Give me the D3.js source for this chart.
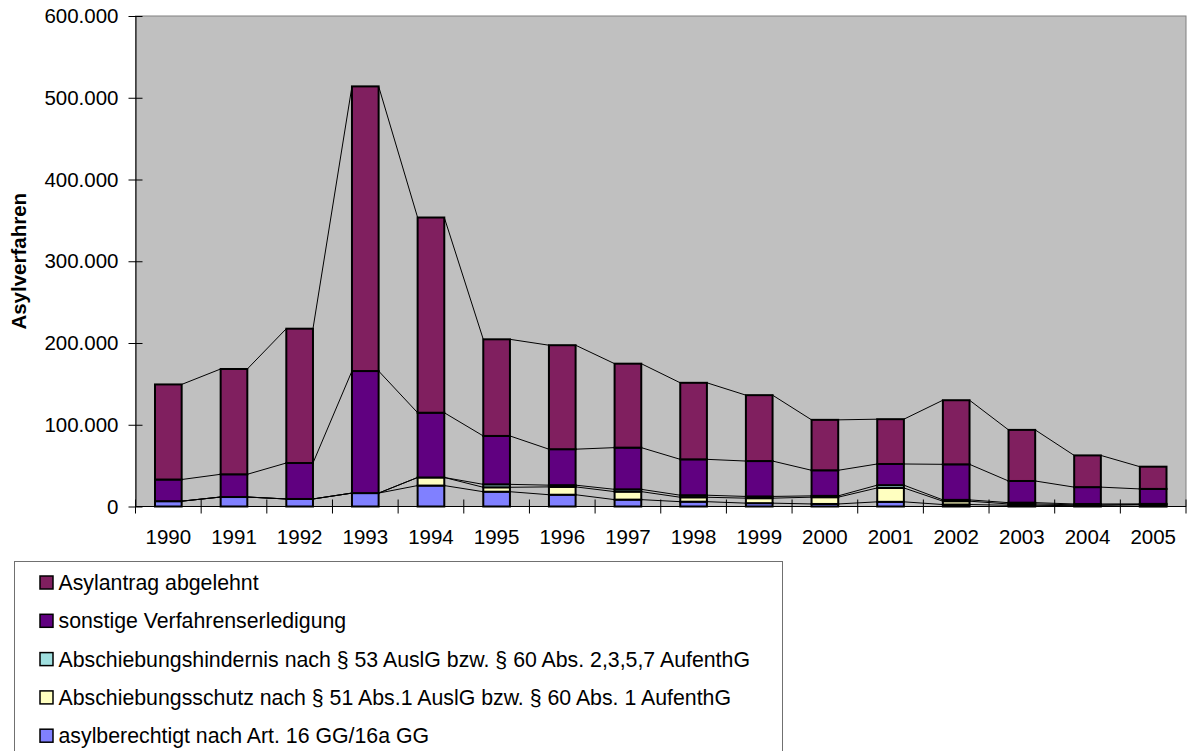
<!DOCTYPE html>
<html>
<head>
<meta charset="utf-8">
<script src="https://cdn.jsdelivr.net/npm/d3@7"></script>
<style>
  html, body { margin: 0; padding: 0; background: #fff; }
  svg { display: block; }
  text { font-family: "Liberation Sans", Arial, sans-serif; fill: #000; }
</style>
</head>
<body>
<svg id="chart" width="1188" height="751"></svg>
<script>
// ---- data ----
const years = ["1990","1991","1992","1993","1994","1995","1996","1997","1998","1999","2000","2001","2002","2003","2004","2005"];
const asylberechtigt      = [6500, 11600, 9200, 16400, 25600, 18100, 14400, 8400, 5900, 4100, 3100, 5700, 2400, 1500, 1000, 400];
const abschiebungsschutz  = [0, 0, 0, 0, 9900, 5400, 9600, 9800, 5400, 6100, 8300, 17000, 4100, 1600, 1100, 2100];
const abschiebungshindernis = [0, 0, 0, 0, 0, 3600, 2100, 2800, 2500, 2100, 1600, 3400, 1600, 1600, 1000, 700];
const sonstige            = [26500, 27800, 44000, 149300, 79200, 59200, 44000, 51000, 43900, 43300, 31300, 25900, 43500, 26500, 20600, 18300];
const abgelehnt           = [116300, 128800, 164300, 348200, 238800, 118200, 127200, 102700, 93600, 80600, 61700, 54800, 78400, 62500, 38800, 27200];
const yTicks = [0, 100000, 200000, 300000, 400000, 500000, 600000];
const seriesNames = [
  "asylberechtigt nach Art. 16 GG/16a GG",
  "Abschiebungsschutz nach § 51 Abs.1 AuslG bzw. § 60 Abs. 1 AufenthG",
  "Abschiebungshindernis nach § 53 AuslG bzw. § 60 Abs. 2,3,5,7 AufenthG",
  "sonstige Verfahrenserledigung",
  "Asylantrag abgelehnt"
];
const seriesColors = ["#8080FF", "#FFFFC0", "#A0E0E0", "#600080", "#801F5F"];
const yTitle = "Asylverfahren";

// ---- layout ----
const svg = d3.select("#chart");
const plot = { left: 135.5, right: 1186, top: 16, bottom: 506.5 };

const rows = years.map((y, i) => ({
  year: y,
  s0: asylberechtigt[i], s1: abschiebungsschutz[i], s2: abschiebungshindernis[i],
  s3: sonstige[i], s4: abgelehnt[i]
}));
const keys = ["s0","s1","s2","s3","s4"];
const stacked = d3.stack().keys(keys)(rows);

const x = d3.scaleBand().domain(years).range([plot.left, plot.right]).paddingInner(0.594).paddingOuter(0.297);
const xOuter = d3.scaleBand().domain(years).range([plot.left, plot.right]);
const y = d3.scaleLinear().domain([0, 600000]).range([plot.bottom, plot.top]);

// plot background
svg.append("rect")
  .attr("x", plot.left).attr("y", plot.top)
  .attr("width", plot.right - plot.left).attr("height", plot.bottom - plot.top)
  .attr("fill", "#C0C0C0").attr("stroke", "#808080").attr("stroke-width", 1);

const fmt = d3.formatLocale({ decimal: ",", thousands: ".", grouping: [3], currency: ["", "€"] }).format(",d");

// series lines
const lineG = svg.append("g").attr("stroke", "#000").attr("stroke-width", 1).attr("fill", "none");
stacked.forEach(layer => {
  for (let i = 0; i < years.length - 1; i++) {
    const a = layer[i], b = layer[i + 1];
    lineG.append("line")
      .attr("x1", x(years[i]) + x.bandwidth()).attr("y1", y(a[1]))
      .attr("x2", x(years[i + 1])).attr("y2", y(b[1]));
  }
});

// bars
stacked.forEach((layer, si) => {
  svg.append("g").selectAll("rect").data(layer).join("rect")
    .attr("x", d => x(d.data.year))
    .attr("y", d => y(d[1]))
    .attr("width", x.bandwidth())
    .attr("height", d => Math.max(0, y(d[0]) - y(d[1])))
    .attr("fill", seriesColors[si])
    .attr("stroke", "#000").attr("stroke-width", 2);
});

// y axis
const yAxis = d3.axisLeft(y).tickValues(yTicks).tickFormat(fmt).tickSizeInner(7).tickSizeOuter(0).tickPadding(10);
const yg = svg.append("g").attr("transform", `translate(${plot.left},0)`).call(yAxis);
yg.select(".domain").attr("stroke", "#000");
yg.selectAll(".tick line").attr("stroke", "#000").attr("x2", 7).attr("x1", -7);
yg.selectAll(".tick text").style("font-size", "20.5px").attr("x", -17);

// x axis
const xAxis = d3.axisBottom(xOuter).tickSize(0).tickPadding(0);
const xg = svg.append("g").attr("transform", `translate(0,${plot.bottom})`).call(xAxis);
xg.select(".domain").remove();
xg.selectAll(".tick text").style("font-size", "20.5px").attr("y", 37.5).attr("dy", 0);
svg.append("line").attr("x1", plot.left).attr("x2", plot.right).attr("y1", plot.bottom).attr("y2", plot.bottom).attr("stroke", "#000");
// category boundary ticks
const bounds = years.map(yr => xOuter(yr)).concat([plot.right]);
svg.append("g").selectAll("line").data(bounds).join("line")
  .attr("x1", d => d).attr("x2", d => d)
  .attr("y1", plot.bottom - 7).attr("y2", plot.bottom + 7)
  .attr("stroke", "#000");

// y title
svg.append("text")
  .attr("transform", `translate(26,${(plot.top + plot.bottom) / 2}) rotate(-90)`)
  .attr("text-anchor", "middle")
  .style("font-size", "20.5px").style("font-weight", "bold")
  .text(yTitle);

// legend
const leg = svg.append("g");
leg.append("rect").attr("x", 14.5).attr("y", 561.5).attr("width", 768).attr("height", 210)
  .attr("fill", "#fff").attr("stroke", "#707070").attr("stroke-width", 1);
const legOrder = [4, 3, 2, 1, 0];
legOrder.forEach((si, r) => {
  const cy = 582.5 + r * 38.3;
  leg.append("rect").attr("x", 40).attr("y", cy - 6.5).attr("width", 13).attr("height", 13)
    .attr("fill", seriesColors[si]).attr("stroke", "#000").attr("stroke-width", 1.5);
  leg.append("text").attr("x", 58.5).attr("y", cy + 7.5)
    .style("font-size", "21.3px").text(seriesNames[si]);
});
</script>
</body>
</html>
